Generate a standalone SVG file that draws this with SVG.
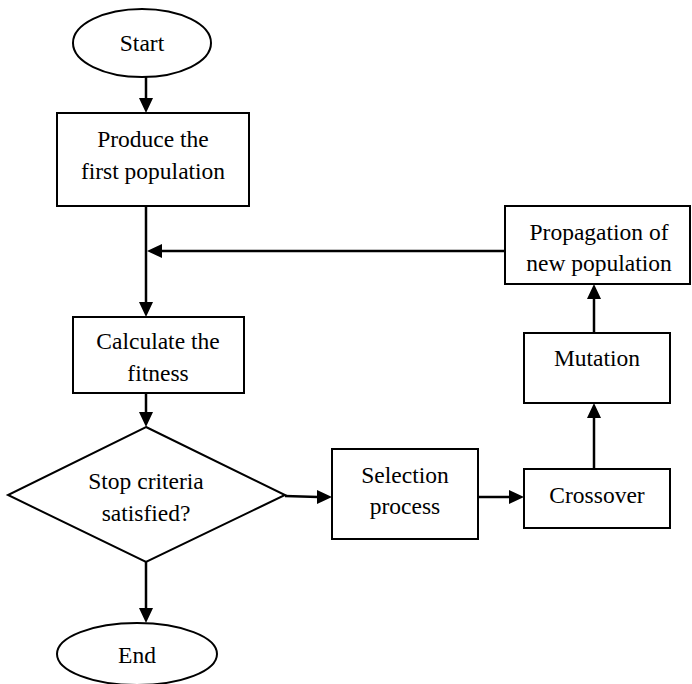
<svg xmlns="http://www.w3.org/2000/svg" width="692" height="684" viewBox="0 0 692 684">
<defs>
<style>
.s{fill:#fff;stroke:#000;stroke-width:2}
.t{font-family:"Liberation Serif","Times New Roman",serif;font-size:23.5px;fill:#000;text-anchor:middle}
.c{fill:none;stroke:#000;stroke-width:2.5}
.h{fill:#000}
</style>
</defs>
<rect width="692" height="684" fill="#fff"/>
<g id="connectors">
<path class="c" d="M146,77 V99"/>
<polygon class="h" points="139,98 153,98 146,113"/>
<path class="c" d="M146,206 V303"/>
<polygon class="h" points="139,302 153,302 146,317"/>
<path class="c" d="M505,251 H160"/>
<polygon class="h" points="162,244 162,258 147,251"/>
<path class="c" d="M146,393 V413"/>
<polygon class="h" points="139,412 153,412 146,427"/>
<path class="c" d="M146,562 V609"/>
<polygon class="h" points="139,608 153,608 146,623"/>
<path class="c" d="M285,496 L318,497"/>
<polygon class="h" points="317,490 317,504 332,497"/>
<path class="c" d="M478,497 H510"/>
<polygon class="h" points="509,490 509,504 524,497"/>
<path class="c" d="M594,469 V417"/>
<polygon class="h" points="587,418 601,418 594,403"/>
<path class="c" d="M594,333 V298"/>
<polygon class="h" points="587,299 601,299 594,284"/>
</g>
<g id="start">
<ellipse class="s" cx="142" cy="43" rx="69" ry="34"/>
<text class="t" x="142" y="51">Start</text>
</g>
<g id="produce">
<rect class="s" x="57" y="113" width="192" height="93"/>
<text class="t" x="153" y="147">Produce the</text>
<text class="t" x="153" y="179">first population</text>
</g>
<g id="calculate">
<rect class="s" x="73" y="317" width="171" height="76"/>
<text class="t" x="158" y="349">Calculate the</text>
<text class="t" x="158" y="381">fitness</text>
</g>
<g id="stop">
<polygon class="s" points="146,427 285,495 146,562 8,495"/>
<text class="t" x="146" y="489">Stop criteria</text>
<text class="t" x="146" y="521">satisfied?</text>
</g>
<g id="end">
<ellipse class="s" cx="137" cy="654" rx="80" ry="31"/>
<text class="t" x="137" y="663">End</text>
</g>
<g id="selection">
<rect class="s" x="332" y="449" width="146" height="90"/>
<text class="t" x="405" y="483">Selection</text>
<text class="t" x="405" y="514">process</text>
</g>
<g id="crossover">
<rect class="s" x="524" y="469" width="146" height="59"/>
<text class="t" x="597" y="503">Crossover</text>
</g>
<g id="mutation">
<rect class="s" x="524" y="333" width="146" height="70"/>
<text class="t" x="597" y="366">Mutation</text>
</g>
<g id="propagation">
<rect class="s" x="505" y="206" width="185" height="78"/>
<text class="t" x="599" y="240">Propagation of</text>
<text class="t" x="599" y="271">new population</text>
</g>
</svg>
